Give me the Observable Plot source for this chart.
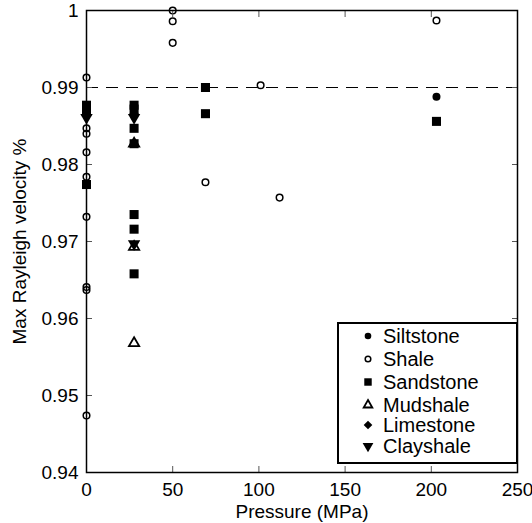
<!DOCTYPE html>
<html><head><meta charset="utf-8">
<script src="https://cdn.jsdelivr.net/npm/d3@7"></script>
<script src="https://cdn.jsdelivr.net/npm/@observablehq/plot@0.6"></script>
<style>
body{margin:0;background:#fff;font-family:"Liberation Sans",Arial,sans-serif;}
#wrap{position:relative;width:532px;height:523px;}
#legend{position:absolute;left:337px;top:322px;width:177px;height:138px;border:2px solid #000;background:#fff;}
.sym{position:absolute;left:23px;}
.lab{position:absolute;left:44px;font-size:20px;line-height:20px;color:#000;white-space:nowrap;}
</style></head><body><div id="wrap"><div id="legend"></div></div>
<script>
const xTicks=[0,50,100,150,200,250];
const yTicks=[0.94,0.95,0.96,0.97,0.98,0.99,1];
const refLine=[0.99];
const siltP=[203], siltV=[0.9888];
const shaleP=[0,0,0,0,0,0,0,0,0,0,50,50,50,69,101,112,203];
const shaleV=[0.9913,0.9876,0.9847,0.9840,0.9816,0.9784,0.9732,0.9641,0.9637,0.9474,1.0,0.9986,0.9958,0.9777,0.9903,0.9757,0.9987];
const sandP=[0,0,0,27.6,27.6,27.6,27.6,27.6,27.6,27.6,69,69,203];
const sandV=[0.9877,0.9871,0.9774,0.9877,0.9872,0.9847,0.9827,0.9735,0.9716,0.9658,0.9900,0.9866,0.9856];
const mudP=[27.6,27.6,27.6], mudV=[0.9827,0.9693,0.9568];
const limeP=[0,27.6], limeV=[0.9864,0.9866];
const clayP=[0,27.6,27.6], clayV=[0.9861,0.9861,0.9697];
const names=["Siltstone","Shale","Sandstone","Mudshale","Limestone","Clayshale"];

const triDown={draw(ctx,size){const y=-Math.sqrt(size/(Math.sqrt(3)*3));const s=Math.sqrt(3);ctx.moveTo(0,-y*2);ctx.lineTo(-s*y,y);ctx.lineTo(s*y,y);ctx.closePath();}};
const rows=(P,V)=>P.map((p,i)=>({p,v:V[i]}));
const styles=[
 {sym:d3.symbolCircle,fill:"black",stroke:"none",r:4,lr:3.3},
 {sym:d3.symbolCircle,fill:"none",stroke:"black",sw:1.5,r:3.3,lr:2.8},
 {sym:d3.symbolSquare,fill:"black",stroke:"none",r:5.1,lr:4.2},
 {sym:d3.symbolTriangle,fill:"none",stroke:"black",sw:1.8,r:3.8,lr:3.2},
 {sym:d3.symbolDiamond2,fill:"black",stroke:"none",r:4.4,lr:3.9},
 {sym:triDown,fill:"black",stroke:"none",r:4.6,lr:4}
];
const sets=[rows(siltP,siltV),rows(shaleP,shaleV),rows(sandP,sandV),rows(mudP,mudV),rows(limeP,limeV),rows(clayP,clayV)];
const order=[2,4,5,0,3,1];
const dotMarks=order.map(k=>{const s=styles[k];return Plot.dot(sets[k],{x:"p",y:"v",symbol:s.sym,fill:s.fill,stroke:s.stroke,strokeWidth:s.sw||1,r:s.r});});

const chart=Plot.plot({
 width:532,height:523,marginLeft:86,marginRight:15,marginTop:10,marginBottom:51,
 style:{fontFamily:"'Liberation Sans',Arial,sans-serif",fontSize:"19px",color:"#000",background:"white"},
 x:{domain:[0,250]},
 y:{domain:[0.94,1]},
 marks:[
  Plot.ruleY(refLine,{stroke:"black",strokeWidth:1.2,strokeDasharray:"12,8"}),
  ...dotMarks,
  Plot.axisX(xTicks,{anchor:"bottom",tickSize:0,tickPadding:10,label:"Pressure (MPa)",labelAnchor:"center",labelArrow:"none",labelOffset:45,fontSize:19}),
  Plot.axisX(xTicks,{anchor:"bottom",tickSize:6,dy:-6,text:null,label:null,stroke:"#555"}),
  Plot.axisX(xTicks,{anchor:"top",tickSize:6,dy:6,text:null,label:null,stroke:"#555"}),
  Plot.axisY(yTicks,{anchor:"left",tickSize:0,tickPadding:8,tickFormat:d3.format(""),label:"Max Rayleigh velocity %",labelAnchor:"center",labelArrow:"none",labelOffset:74,fontSize:19}),
  Plot.axisY(yTicks,{anchor:"left",tickSize:6,dx:6,text:null,label:null,stroke:"#555"}),
  Plot.axisY(yTicks,{anchor:"right",tickSize:6,dx:-6,text:null,label:null,stroke:"#555"}),
  Plot.frame({stroke:"black",strokeWidth:1.5})
 ]
});
document.getElementById("wrap").prepend(chart);

const lg=document.getElementById("legend");
const centers=[12,35,58,81,101,122];
names.forEach((n,k)=>{
 const s=styles[k];
 const path=d3.symbol(s.sym,Math.PI*s.lr*s.lr)();
 const sv=document.createElement("div");sv.className="sym";sv.style.top=(centers[k]-7)+"px";
 sv.innerHTML=`<svg width="12" height="14" viewBox="-6 -7 12 14" style="display:block"><path d="${path}" fill="${s.fill}" stroke="${s.stroke}" stroke-width="${s.sw||1}"/></svg>`;
 const sp=document.createElement("div");sp.className="lab";sp.style.top=(centers[k]-10)+"px";sp.textContent=n;
 lg.appendChild(sv);lg.appendChild(sp);
});
</script></body></html>
